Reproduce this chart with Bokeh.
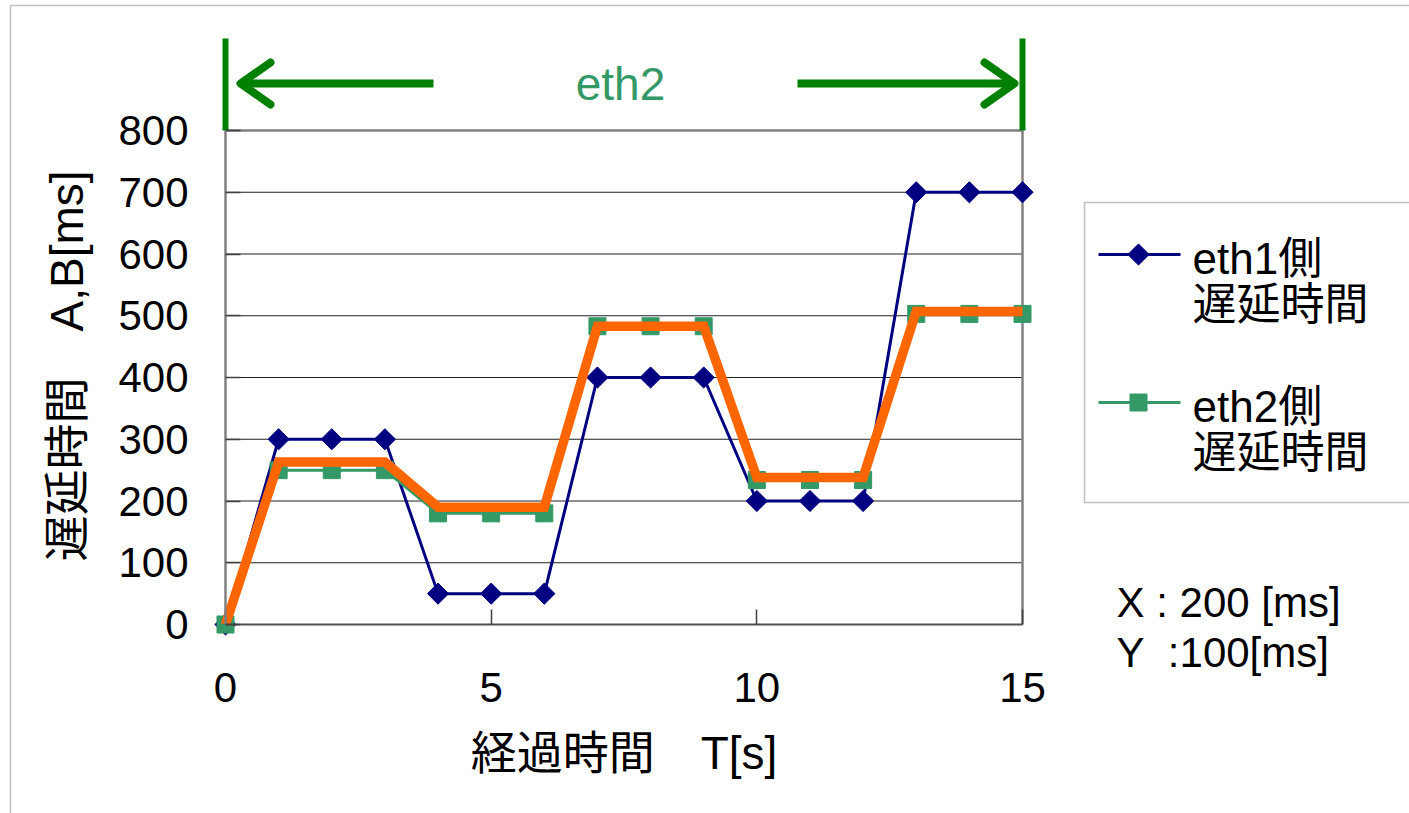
from bokeh.plotting import figure
from bokeh.models import Range1d, FixedTicker, Label, PolyAnnotation
from bokeh.embed import file_html
from bokeh.resources import INLINE

# elapsed time T [s]
t = list(range(16))
# delay on the eth1 side [ms]
eth1_delay = [0, 300, 300, 300, 50, 50, 50, 400, 400, 400, 200, 200, 200, 700, 700, 700]
# delay on the eth2 side [ms]
eth2_delay = [0, 250, 250, 250, 180, 180, 180, 483, 483, 483, 234, 234, 234, 503, 503, 503]
# combined delay curve (bold orange) [ms]
combined_delay = [0, 263, 263, 263, 190, 190, 190, 483, 483, 483, 238, 238, 238, 507, 507, 507]

x_ticks = [0, 5, 10, 15]
y_ticks = [0, 100, 200, 300, 400, 500, 600, 700, 800]
legend_labels = [("eth1側", "遅延時間"), ("eth2側", "遅延時間")]

W, H = 1409, 813
LEFT, RIGHT, TOP, BOTTOM = 225, 1022, 130, 624   # plot box in canvas pixels
X_MAX, Y_MAX = 15, 800

LATIN = "Liberation Sans"
MIXED = "Liberation Sans, Noto Sans CJK JP"
NAVY, SEA, ORANGE, GREEN = "#000080", "#339966", "#FF6600", "#008000"
DIAMOND = 0.785398  # square marker turned 45 degrees


def cx(px):
    """canvas x pixel -> data x"""
    return (px - LEFT) / (RIGHT - LEFT) * X_MAX


def cy(py):
    """canvas y pixel -> data y"""
    return (BOTTOM - py) / (BOTTOM - TOP) * Y_MAX


# the frame fills the whole canvas; axes are pinned at the data origin
p = figure(width=W, height=H, output_backend="svg", toolbar_location=None,
           x_range=Range1d(cx(0), cx(W)), y_range=Range1d(cy(H), cy(0)),
           min_border=0, min_border_left=0, min_border_right=0,
           min_border_top=0, min_border_bottom=0,
           background_fill_color="white", border_fill_color="white")
p.outline_line_color = None
p.xgrid.visible = False
p.ygrid.visible = False

# outer frame of the figure
p.add_layout(PolyAnnotation(xs=[cx(10), cx(1600), cx(1600), cx(10)],
                            ys=[cy(5), cy(5), cy(1000), cy(1000)],
                            fill_alpha=0, line_color="#303030", line_width=1.5))

# horizontal grid lines and the top/right edges of the plot box
grid_y = y_ticks[1:-1]
p.segment(x0=[0] * len(grid_y), x1=[X_MAX] * len(grid_y), y0=grid_y, y1=grid_y,
          line_color="#202020", line_width=1.2)
p.line([0, X_MAX, X_MAX], [Y_MAX, Y_MAX, 0], line_color="#808080", line_width=2.5)

# axes
p.xaxis.fixed_location = 0
p.yaxis.fixed_location = 0
p.xaxis.bounds = (0, X_MAX)
p.yaxis.bounds = (0, Y_MAX)
p.xaxis.ticker = FixedTicker(ticks=x_ticks)
p.yaxis.ticker = FixedTicker(ticks=y_ticks)
for ax in (p.xaxis[0], p.yaxis[0]):
    ax.major_tick_in = 15
    ax.major_tick_out = 0
    ax.minor_tick_line_color = None
    ax.major_tick_line_color = "#404040"
    ax.major_tick_line_width = 1.5
    ax.major_label_text_font = LATIN
    ax.major_label_text_font_size = "42px"
    ax.major_label_text_color = "black"
    ax.axis_label_text_font = MIXED
    ax.axis_label_text_font_size = "46px"
    ax.axis_label_text_font_style = "normal"
    ax.axis_label_text_color = "black"

p.xaxis.axis_label = "経過時間　T[s]"
p.yaxis.axis_label = "\u2002遅延時間　A,B[ms]"
p.xaxis.axis_line_color = "#505050"
p.xaxis.axis_line_width = 2
p.yaxis.axis_line_color = "#808080"
p.yaxis.axis_line_width = 2.5
p.xaxis.major_label_standoff = 48
p.xaxis.axis_label_standoff = 22
p.yaxis.major_label_standoff = 37
p.yaxis.axis_label_standoff = 22

# series
p.line(t, eth1_delay, line_color=NAVY, line_width=3)
p.scatter(t, eth1_delay, marker="square", angle=DIAMOND, size=15,
          fill_color=NAVY, line_color=NAVY)
p.line(t, eth2_delay, line_color=SEA, line_width=3)
p.scatter(t, eth2_delay, marker="square", size=17, fill_color=SEA, line_color=SEA)
p.line(t, combined_delay, line_color=ORANGE, line_width=9.5, line_join="miter")

# eth2 span marker above the plot
for bx in (0, X_MAX):
    p.line([bx, bx], [cy(38), Y_MAX], line_color=GREEN, line_width=6)
arrow_y = cy(83)
p.line([cx(433), cx(240)], [arrow_y, arrow_y], line_color=GREEN, line_width=8)
p.line([cx(270), cx(240), cx(270)], [cy(62), arrow_y, cy(104)],
       line_color=GREEN, line_width=8, line_cap="round", line_join="round")
p.line([cx(797), cx(1014)], [arrow_y, arrow_y], line_color=GREEN, line_width=8)
p.line([cx(984), cx(1014), cx(984)], [cy(62), arrow_y, cy(104)],
       line_color=GREEN, line_width=8, line_cap="round", line_join="round")
p.add_layout(Label(x=cx(620), y=arrow_y, text="eth2", text_font=LATIN,
                   text_font_size="46px", text_color=SEA,
                   text_align="center", text_baseline="middle"))

# legend: box, line samples with their markers, two-line labels
p.add_layout(PolyAnnotation(xs=[cx(1084), cx(1600), cx(1600), cx(1084)],
                            ys=[cy(202), cy(202), cy(502), cy(502)],
                            fill_alpha=0, line_color="#303030", line_width=1.5))
key_styles = [dict(color=NAVY, marker="square", angle=DIAMOND, size=15, key_y=254),
              dict(color=SEA, marker="square", angle=0.0, size=17, key_y=402)]
for (line1, line2), st in zip(legend_labels, key_styles):
    ky = cy(st["key_y"])
    p.line([cx(1098), cx(1180)], [ky, ky], line_color=st["color"], line_width=3)
    p.scatter([cx(1138)], [ky], marker=st["marker"], angle=st["angle"], size=st["size"],
              fill_color=st["color"], line_color=st["color"])
    p.add_layout(Label(x=cx(1192), y=cy(st["key_y"] + 4), text=line1, text_font=MIXED,
                       text_font_size="44px", text_color="black",
                       text_align="left", text_baseline="middle"))
    p.add_layout(Label(x=cx(1192), y=cy(st["key_y"] + 50), text=line2, text_font=MIXED,
                       text_font_size="44px", text_color="black",
                       text_align="left", text_baseline="middle"))

# scale note
p.add_layout(Label(x=cx(1116), y=cy(602), text="X : 200 [ms]", text_font=LATIN,
                   text_font_size="42px", text_color="black",
                   text_align="left", text_baseline="middle"))
p.add_layout(Label(x=cx(1116), y=cy(652), text="Y\u00a0\u00a0:100[ms]", text_font=LATIN,
                   text_font_size="42px", text_color="black",
                   text_align="left", text_baseline="middle"))

open("out.html", "w").write(file_html(p, INLINE))
